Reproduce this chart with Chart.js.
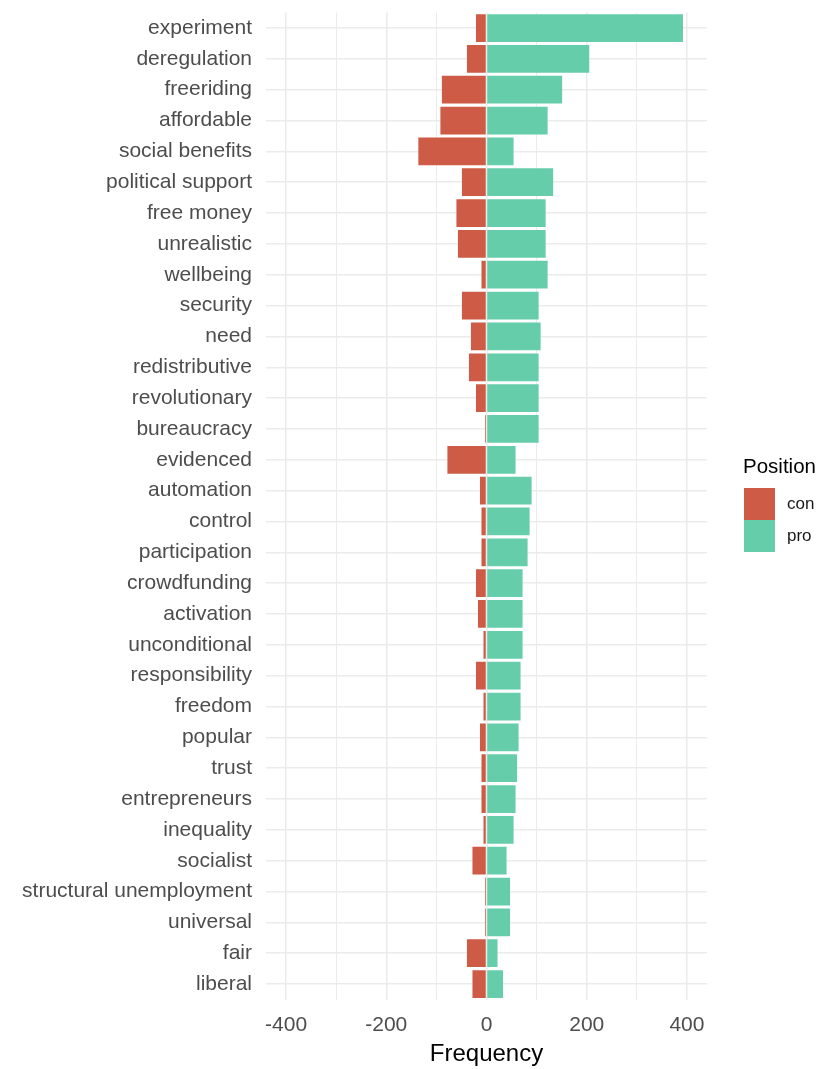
<!DOCTYPE html>
<html>
<head>
<meta charset="utf-8">
<script src="https://cdn.jsdelivr.net/npm/chart.js@4.4.1/dist/chart.umd.min.js"></script>
<style>
    body { margin: 0; background: #fff; font-family: "Liberation Sans", Arial, sans-serif; }
    #wrap { position: relative; width: 821px; height: 1069px; }
    #legend { position: absolute; left: 743px; top: 452px; color: #000; }
    #legend .title { font-size: 20.5px; line-height: 28px; margin-bottom: 8px; }
    #legend .row { display: flex; align-items: center; height: 32px; }
    #legend .key { width: 31px; height: 32px; margin-left: 1px; }
    #legend .lab { font-size: 17px; margin-left: 12px; color: #1a1a1a; }
</style>
</head>
<body>
<div id="wrap">
    <canvas id="chart"></canvas>
    <div id="legend"></div>
</div>
<script>
// words, top to bottom
var words = ["experiment", "deregulation", "freeriding", "affordable", "social benefits",
    "political support", "free money", "unrealistic", "wellbeing", "security", "need",
    "redistributive", "revolutionary", "bureaucracy", "evidenced", "automation", "control",
    "participation", "crowdfunding", "activation", "unconditional", "responsibility",
    "freedom", "popular", "trust", "entrepreneurs", "inequality", "socialist",
    "structural unemployment", "universal", "fair", "liberal"];

// con counts are plotted to the left (negative)
var conValues = [-21, -39, -89, -92, -136, -49, -60, -57, -10, -49, -31,
    -35, -21, -3, -78, -13, -10, -10, -21, -17, -6, -21,
    -6, -13, -10, -10, -6, -28, -3, -3, -39, -28];

var proValues = [392, 205, 151, 122, 54, 133, 118, 118, 122, 104, 108,
    104, 104, 104, 58, 90, 86, 82, 72, 72, 72, 68,
    68, 64, 61, 58, 54, 40, 47, 47, 22, 33];

var xGridValues = [-400, -300, -200, -100, 0, 100, 200, 300, 400];
var xTickLabels = [-400, -200, 0, 200, 400];

var series = [
    { name: "con", values: conValues, color: "#CD5B45" },
    { name: "pro", values: proValues, color: "#66CDAA" }
];

var gridColor = "#EBEBEB";
var tickColor = "#4D4D4D";

function buildLegend() {
    var box = document.getElementById("legend");
    var html = '<div class="title">Position</div>';
    for (var i = 0; i < series.length; i++) {
        html += '<div class="row"><div class="key" style="background:' + series[i].color +
            '"></div><span class="lab">' + series[i].name + '</span></div>';
    }
    box.innerHTML = html;
}

function drawChart() {
    var ctx = document.getElementById("chart");
    var datasets = series.map(function (s) {
        return {
            label: s.name,
            data: s.values,
            backgroundColor: s.color,
            borderWidth: 0,
            barPercentage: 0.9,
            categoryPercentage: 1.0
        };
    });

    new Chart(ctx, {
        type: "bar",
        data: { labels: words, datasets: datasets },
        options: {
            indexAxis: "y",
            responsive: true,
            maintainAspectRatio: false,
            animation: false,
            layout: { padding: { top: 0, right: 114, left: 0, bottom: 0 } },
            plugins: {
                legend: { display: false },
                tooltip: { enabled: false }
            },
            scales: {
                x: {
                    type: "linear",
                    stacked: true,
                    min: -440,
                    max: 440,
                    afterBuildTicks: function (scale) {
                        scale.ticks = xGridValues.map(function (v) { return { value: v }; });
                    },
                    afterFit: function (scale) { scale.height = 69.5; },
                    grid: {
                        color: gridColor,
                        lineWidth: function (c) {
                            return xTickLabels.indexOf(c.tick.value) >= 0 ? 1.5 : 1;
                        },
                        drawTicks: false
                    },
                    border: { display: false },
                    ticks: {
                        padding: 13,
                        color: tickColor,
                        font: { family: "'Liberation Sans', Arial, sans-serif", size: 21 },
                        callback: function (v) {
                            return xTickLabels.indexOf(v) >= 0 ? String(v) : "";
                        }
                    },
                    title: {
                        display: true,
                        text: "Frequency",
                        color: "#000",
                        font: { family: "'Liberation Sans', Arial, sans-serif", size: 24 },
                        padding: { top: 0, bottom: 0 }
                    }
                },
                y: {
                    stacked: true,
                    afterFit: function (scale) { scale.width = 266; },
                    // gap between labels and panel comes from an invisible tick mark
                    grid: {
                        color: gridColor, lineWidth: 1.5, offset: false,
                        drawTicks: true, tickLength: 14, tickColor: "rgba(0,0,0,0)"
                    },
                    border: { display: false },
                    ticks: {
                        padding: 0,
                        color: tickColor,
                        autoSkip: false,
                        font: { family: "'Liberation Sans', Arial, sans-serif", size: 21 }
                    }
                }
            }
        }
    });
}

buildLegend();
drawChart();
</script>
</body>
</html>
